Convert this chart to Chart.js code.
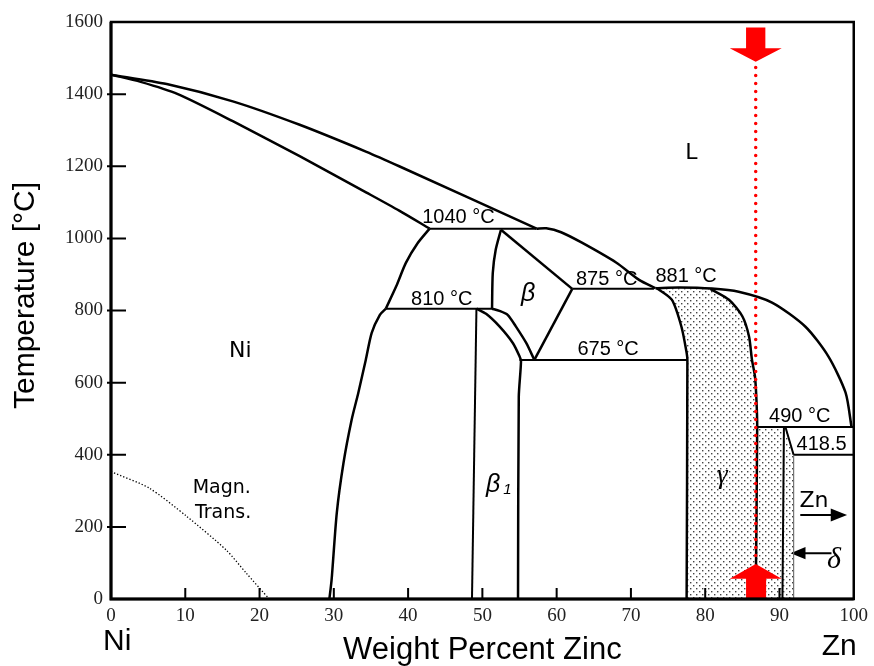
<!DOCTYPE html>
<html>
<head>
<meta charset="utf-8">
<script src="https://cdn.jsdelivr.net/npm/chart.js@4.4.1/dist/chart.umd.min.js"></script>
<style>
  html, body { margin: 0; padding: 0; background: #fff; }
  canvas { display: block; }
</style>
</head>
<body>
<canvas id="phaseChart" width="874" height="666"></canvas>
<script>
// axis ticks
const zincTicks = [0, 10, 20, 30, 40, 50, 60, 70, 80, 90, 100];
const tempTicks = [0, 200, 400, 600, 800, 1000, 1200, 1400, 1600];

// phase boundaries as [wt% Zn, temperature]
const liquidusNi = [[0, 1454], [7.5, 1428], [16.4, 1380], [25.4, 1315], [34.4, 1240], [38.8, 1200], [57.3, 1027]];
const solidusNi = [[0, 1454], [4, 1434], [9, 1400], [16.4, 1325], [25.4, 1228], [34.4, 1127], [38.8, 1077], [42.9, 1027]];
const liquidusMid = [[57.3, 1027], [58.6, 1028], [60.6, 1017], [63.4, 988], [68.0, 933], [71.1, 885], [73.3, 862]];
const liquidusZn = [[73.3, 862], [76.5, 864], [80.9, 861], [84.5, 852], [89.0, 822], [93.5, 755], [96.6, 672], [98.9, 572], [99.7, 477]];
const solvusNiHigh = [[42.9, 1027], [41.3, 987], [39.7, 932], [38.4, 867], [37.0, 805]];
const solvusNiLow = [[37.0, 805], [36.2, 788], [35.1, 738], [34.3, 663], [33.3, 572], [32.4, 497], [31.3, 377], [30.4, 239], [29.7, 53], [29.4, 0]];
const betaLeft = [[52.5, 1024], [51.8, 969], [51.4, 904], [51.3, 805]];
const betaUpper = [[52.5, 1024], [62.1, 860]];
const betaLower = [[62.1, 860], [57.0, 663]];
const betaBottom = [[51.3, 805], [52.3, 799], [53.4, 788], [54.5, 756], [55.9, 710], [57.0, 663]];
const beta1Left = [[49.2, 805], [48.6, 0]];
const beta1Right = [[49.2, 805], [50.5, 791], [52.3, 756], [54.1, 710], [55.0, 673], [55.2, 659], [54.9, 560], [54.8, 0]];
const gammaLeft = [[73.4, 863], [75.5, 830], [76.8, 755], [77.5, 683], [77.6, 663], [77.5, 0]];
const gammaRight = [[80.7, 860], [83.2, 830], [85.0, 784], [85.9, 728], [86.3, 663], [86.7, 617], [86.9, 552], [87.0, 478], [86.8, 0]];
const deltaLeft = [[90.6, 477], [90.4, 0]];
const deltaTop = [[90.8, 477], [91.9, 400]];
const deltaRight = [[91.9, 400], [91.9, 0]];
const magneticLine = [[0, 353], [5.1, 308], [10.2, 229], [15.5, 136], [18.2, 72], [21.3, 0]];

// isotherms
const iso1040 = [[42.9, 1027], [57.3, 1027]];
const iso810 = [[37.0, 805], [51.3, 805]];
const iso875 = [[62.1, 860], [73.1, 860]];
const iso675 = [[55.0, 663], [77.6, 663]];
const iso490 = [[87.0, 477], [100, 477]];
const iso418 = [[91.9, 400], [100, 400]];

// alloy composition marker and its arrows
const alloyLine = [[86.8, 1474], [86.8, 100]];
const arrowTop = [[85.5, 1585], [88.1, 1585], [88.1, 1527], [90.3, 1527], [86.8, 1490], [83.3, 1527], [85.5, 1527], [85.5, 1585]];
const arrowBottom = [[85.5, 0], [88.2, 0], [88.2, 56], [90.3, 56], [86.8, 97], [83.3, 56], [85.5, 56], [85.5, 0]];
const znShaft = [[92.8, 233], [97.2, 233]];
const znHead = [[96.9, 251], [99.1, 233], [96.9, 215], [96.9, 251]];
const deltaShaft = [[93.2, 127], [97.0, 127]];
const deltaHead = [[93.5, 144], [91.5, 127], [93.5, 110], [93.5, 144]];

// stippled gamma + delta field
const stippleField = [
  ...gammaLeft, [91.9, 0], [91.9, 400], [90.8, 477],
  ...gammaRight.slice(0, -1).reverse(), [73.4, 863]
];

// labels: text, x, y, style
const labels = [
  ['1040 °C', 41.9, 1044, 'temp'],
  ['810 °C', 40.4, 816, 'temp'],
  ['875 °C', 62.6, 871, 'temp'],
  ['881 °C', 73.3, 880, 'temp'],
  ['675 °C', 62.8, 677, 'temp'],
  ['490 °C', 88.6, 491, 'temp'],
  ['418.5', 92.3, 414, 'temp'],
  ['L', 77.3, 1220, 'phase'],
  ['Ni', 15.9, 672, 'phase'],
  ['Zn', 92.7, 256, 'phase'],
  ['Magn.', 11.0, 294, 'small'],
  ['Trans.', 11.3, 225, 'small'],
  ['β', 55.2, 827, 'greekSans'],
  ['β', 50.5, 297, 'greekSans'],
  ['1', 52.8, 292, 'sub'],
  ['γ', 81.6, 322, 'greekSerif'],
  ['δ', 96.4, 86, 'delta']
];
const labelFonts = {
  temp: '20px "Liberation Sans", Arial, sans-serif',
  phase: '22px "DejaVu Sans", Verdana, sans-serif',
  small: '19px "DejaVu Sans", Verdana, sans-serif',
  greekSans: 'italic 25px "Liberation Sans", Arial, sans-serif',
  sub: 'italic 15px "Liberation Sans", Arial, sans-serif',
  greekSerif: 'italic 27px "Liberation Serif", serif',
  delta: 'italic 30px "Liberation Serif", serif'
};

const pts = arr => arr.map(([x, y]) => ({ x, y }));

function makeStipple() {
  const c = document.createElement('canvas');
  c.width = 6; c.height = 6;
  const g = c.getContext('2d');
  g.fillStyle = '#fff';
  g.fillRect(0, 0, 6, 6);
  g.fillStyle = '#444';
  g.fillRect(0, 0, 1.4, 1.4);
  g.fillRect(3, 3, 1.4, 1.4);
  return g.createPattern(c, 'repeat');
}

function line(arr, extra) {
  return Object.assign({
    data: pts(arr), showLine: true, pointRadius: 0, borderColor: '#000',
    borderWidth: 2.5, tension: 0, fill: false, order: 5
  }, extra);
}
const curve = arr => line(arr, { tension: 0.25 });
const thin = arr => line(arr, { borderWidth: 2 });

const datasets = [
  line(stippleField, { backgroundColor: makeStipple(), borderWidth: 0, fill: 'shape', order: 10 }),
  curve(liquidusNi), curve(solidusNi), curve(liquidusMid), curve(liquidusZn),
  curve(solvusNiHigh), curve(solvusNiLow), curve(betaLeft), curve(betaBottom),
  line(betaUpper), line(betaLower),
  thin(beta1Left), curve(beta1Right),
  curve(gammaLeft), curve(gammaRight),
  thin(deltaLeft), thin(deltaTop), line(deltaRight, { borderWidth: 1, borderColor: '#777' }),
  thin(iso1040), thin(iso810), thin(iso875), thin(iso675), thin(iso490), thin(iso418),
  line(magneticLine, { borderWidth: 1.3, borderDash: [1.3, 2], tension: 0.25 }),
  thin(znShaft), line(znHead, { borderWidth: 0, backgroundColor: '#000', fill: 'shape' }),
  thin(deltaShaft), line(deltaHead, { borderWidth: 0, backgroundColor: '#000', fill: 'shape' }),
  line(alloyLine, { borderColor: '#f00', borderWidth: 3.5, borderDash: [0, 8], borderCapStyle: 'round', order: 1 }),
  line(arrowTop, { borderWidth: 0, backgroundColor: '#f00', fill: 'shape', order: 1 }),
  line(arrowBottom, { borderWidth: 0, backgroundColor: '#f00', fill: 'shape', order: 1 })
];

const frame = {
  id: 'frame',
  afterDatasetsDraw(chart) {
    const { ctx, chartArea: a, scales: { x, y } } = chart;
    ctx.save();
    ctx.strokeStyle = '#000';
    // inward ticks
    ctx.lineWidth = 2;
    ctx.beginPath();
    tempTicks.slice(1, -1).forEach(v => {
      const py = y.getPixelForValue(v);
      ctx.moveTo(a.left - 4, py); ctx.lineTo(a.left + 15, py);
    });
    zincTicks.slice(1, -1).forEach(v => {
      const px = x.getPixelForValue(v);
      ctx.moveTo(px, a.bottom - 11); ctx.lineTo(px, a.bottom);
    });
    ctx.stroke();
    // box
    ctx.lineWidth = 2.5;
    ctx.strokeRect(a.left, a.top, a.right - a.left, a.bottom - a.top);
    ctx.lineWidth = 3;
    ctx.beginPath();
    ctx.moveTo(a.left, a.top); ctx.lineTo(a.left, a.bottom); ctx.lineTo(a.right, a.bottom);
    ctx.stroke();

    // field labels
    ctx.fillStyle = '#000';
    ctx.textBaseline = 'alphabetic';
    ctx.textAlign = 'left';
    labels.forEach(([text, lx, ly, style]) => {
      ctx.font = labelFonts[style];
      ctx.fillText(text, x.getPixelForValue(lx), y.getPixelForValue(ly));
    });

    // end members under the axis
    ctx.font = '30px "Liberation Sans", Arial, sans-serif';
    ctx.fillText('Ni', x.getPixelForValue(0) - 8, a.bottom + 51);
    ctx.fillText('Zn', x.getPixelForValue(100) - 32, a.bottom + 56);

    // y title
    ctx.translate(34, (a.top + a.bottom) / 2 - 15);
    ctx.rotate(-Math.PI / 2);
    ctx.textAlign = 'center';
    ctx.fillText('Temperature [°C]', 0, 0);
    ctx.restore();
  }
};

const tickFont = { family: '"Liberation Serif", "Times New Roman", serif', size: 19 };

new Chart(document.getElementById('phaseChart'), {
  type: 'scatter',
  data: { datasets },
  options: {
    responsive: false,
    animation: false,
    devicePixelRatio: 1,
    layout: { padding: { top: 22, right: 19, left: 0, bottom: 0 } },
    plugins: { legend: { display: false }, tooltip: { enabled: false } },
    scales: {
      x: {
        type: 'linear', min: 0, max: 100,
        afterBuildTicks: s => { s.ticks = zincTicks.map(v => ({ value: v })); },
        afterFit: s => { s.height = 67; },
        grid: { display: false, drawTicks: false },
        border: { display: false },
        ticks: { font: tickFont, color: '#222', padding: 6, maxRotation: 0, callback: v => String(v) },
        title: {
          display: true, text: 'Weight Percent Zinc', color: '#000', padding: 0,
          font: { family: '"Liberation Sans", Arial, sans-serif', size: 31, lineHeight: 1 }
        }
      },
      y: {
        type: 'linear', min: 0, max: 1600,
        afterBuildTicks: s => { s.ticks = tempTicks.map(v => ({ value: v })); },
        afterFit: s => { s.width = 111; },
        grid: { display: false, drawTicks: false },
        border: { display: false },
        ticks: { font: tickFont, color: '#222', padding: 8, callback: v => String(v) }
      }
    }
  },
  plugins: [frame]
});
</script>
</body>
</html>
